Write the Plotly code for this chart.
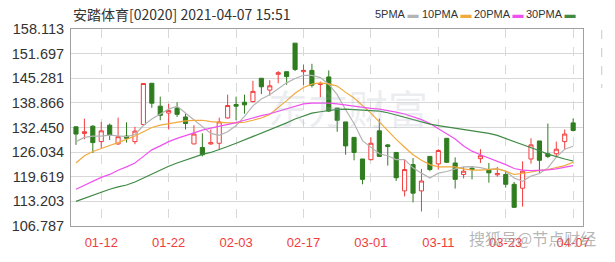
import plotly.graph_objects as go

dates = ["2021-01-07","2021-01-08","2021-01-11","2021-01-12","2021-01-13","2021-01-14","2021-01-15",
         "2021-01-18","2021-01-19","2021-01-20","2021-01-21","2021-01-22","2021-01-25","2021-01-26",
         "2021-01-27","2021-01-28","2021-01-29","2021-02-01","2021-02-02","2021-02-03","2021-02-04",
         "2021-02-05","2021-02-08","2021-02-09","2021-02-10","2021-02-11","2021-02-16","2021-02-17",
         "2021-02-18","2021-02-19","2021-02-22","2021-02-23","2021-02-24","2021-02-25","2021-02-26",
         "2021-03-01","2021-03-02","2021-03-03","2021-03-04","2021-03-05","2021-03-08","2021-03-09",
         "2021-03-10","2021-03-11","2021-03-12","2021-03-15","2021-03-16","2021-03-17","2021-03-18",
         "2021-03-19","2021-03-22","2021-03-23","2021-03-24","2021-03-25","2021-03-26","2021-03-29",
         "2021-03-30","2021-03-31","2021-04-01","2021-04-07"]

open_ = [132.62,130.91,132.79,128.77,133.05,128.17,130.23,128.77,133.22,143.98,
         138.01,136.21,137.50,135.19,128.17,127.23,128.17,128.34,134.93,138.44,
         139.04,139.21,145.28,142.20,146.31,146.99,154.43,146.99,147.33,143.66,
         145.62,137.50,133.90,129.88,124.24,124.07,131.58,127.92,125.95,115.94,
         122.78,115.94,124.92,122.96,129.63,123.21,120.22,121.84,124.32,121.50,
         120.13,120.22,117.65,116.63,124.24,128.94,125.61,125.61,128.77,133.65]
high = [132.79,134.76,133.05,133.90,133.48,135.02,133.82,132.62,143.91,143.98,
        140.49,138.61,139.04,136.04,133.05,130.91,131.94,135.02,141.00,140.49,
        141.00,144.60,145.28,144.77,147.16,146.99,154.43,148.87,149.04,144.42,
        147.33,137.50,133.90,129.88,124.24,129.88,134.76,128.17,125.95,124.07,
        124.50,121.67,124.92,126.80,129.63,124.67,122.19,122.36,126.80,123.21,
        122.19,121.07,118.25,123.64,129.63,128.94,133.48,128.77,131.94,134.85]
low = [127.92,129.37,125.78,127.06,129.20,127.92,128.51,128.09,133.05,137.58,
       134.33,131.94,135.19,131.94,128.09,124.92,127.92,126.80,134.76,134.33,
       136.04,138.95,141.17,140.75,143.98,143.57,147.16,143.48,142.89,140.32,
       136.47,131.34,125.35,123.90,117.65,123.90,124.75,122.53,118.51,114.49,
       112.95,110.55,121.07,121.50,123.21,116.54,119.19,118.94,123.21,118.08,
       119.62,116.80,111.49,111.83,123.04,120.64,124.50,124.75,126.63,131.43]
close = [130.74,131.34,128.51,131.58,130.48,130.05,129.63,131.51,143.91,138.78,
         135.61,136.90,135.87,133.48,130.74,125.35,128.51,133.90,138.18,138.01,
         138.35,141.86,143.06,143.31,146.73,145.71,147.59,147.33,143.48,143.91,
         136.73,134.33,127.66,125.95,118.94,128.34,124.92,127.49,119.36,121.50,
         115.34,118.51,121.50,126.46,123.38,118.94,121.07,121.50,125.09,120.64,
         120.47,117.65,111.66,121.07,127.92,123.90,124.92,126.80,130.74,131.68]

ma5 = [128.77,129.88,130.22,130.22,130.48,130.31,130.05,130.65,132.96,134.67,
       135.96,137.24,138.01,136.21,134.59,132.62,130.91,130.40,131.34,132.96,
       135.36,138.10,139.89,141.00,142.63,144.08,145.20,146.05,146.05,145.45,
       143.74,141.00,137.07,133.48,129.03,127.23,125.61,125.09,124.07,124.07,
       121.93,120.56,119.28,120.56,120.99,121.67,122.19,122.27,122.01,121.50,
       121.76,121.07,119.28,118.42,119.79,120.47,121.93,124.75,126.80,127.57]
ma10 = [123.21,125.09,126.20,127.06,127.75,128.52,129.37,130.22,131.34,132.45,
        133.05,133.48,133.90,134.16,134.33,134.33,133.99,133.73,133.65,133.65,
        133.82,134.33,134.93,135.87,137.58,139.46,141.35,142.89,143.74,144.08,
        143.83,143.23,141.60,140.15,138.18,136.21,133.90,131.58,129.37,127.32,
        125.35,123.90,122.78,122.19,122.19,122.19,121.67,121.33,121.33,121.50,
        121.67,121.07,120.22,120.47,120.90,121.24,121.50,121.93,122.53,123.38]
ma20 = [116.37,117.40,118.42,119.45,120.22,121.33,122.19,123.21,124.92,126.63,
        127.66,128.77,129.63,130.40,131.08,131.77,132.28,132.71,133.22,133.73,
        134.33,135.02,135.53,136.04,136.73,137.33,138.01,138.61,138.78,138.87,
        138.78,138.61,138.27,137.93,137.58,137.41,137.24,136.90,136.47,135.96,
        135.27,134.50,133.48,132.19,130.91,129.46,127.66,126.29,125.35,124.50,
        123.81,122.78,121.76,121.33,121.24,121.24,121.41,121.67,122.01,122.53]
ma30 = [113.20,113.97,114.83,115.68,116.37,116.97,117.48,118.25,119.28,120.39,
        121.41,122.36,123.21,123.98,124.75,125.44,125.95,126.63,127.49,128.34,
        129.20,130.05,130.91,131.77,132.62,133.65,134.67,135.53,136.21,136.55,
        136.90,137.15,137.24,137.15,137.07,136.90,136.73,136.30,135.70,135.02,
        134.33,133.73,133.31,132.96,132.62,132.36,132.11,131.77,131.34,130.91,
        130.40,129.63,128.69,128.00,127.23,126.38,125.52,124.84,124.24,123.72]

y_ticks = ["106.787","113.203","119.619","126.034","132.450","138.866","145.281","151.697","158.113"]
x_tick_dates = ["2021-01-12","2021-01-22","2021-02-03","2021-02-17","2021-03-01",
                "2021-03-11","2021-03-23","2021-04-07"]
x_tick_text = ["01-12","01-22","02-03","02-17","03-01","03-11","03-23","04-07"]

ma_names = ["5PMA", "10PMA", "20PMA", "30PMA"]
ma_colors = ["#b4b4b4", "#f2a93b", "#f050f0", "#3f8a45"]
title_text = "安踏体育[02020] 2021-04-07 15:51"

RED = "#f23c3c"
GREEN = "#2f7d1f"

fig = go.Figure()
fig.add_trace(go.Candlestick(
    x=dates, open=open_, high=high, low=low, close=close,
    increasing=dict(line=dict(color=RED, width=1), fillcolor="white"),
    decreasing=dict(line=dict(color=GREEN, width=1), fillcolor=GREEN),
    whiskerwidth=0, showlegend=False, hoverinfo="skip",
))
for name, vals, col in zip(ma_names, [ma5, ma10, ma20, ma30], ma_colors):
    fig.add_trace(go.Scatter(x=dates, y=vals, mode="lines", name=name,
                             line=dict(color=col, width=1.2), showlegend=False,
                             hoverinfo="skip"))

L, R, T, B = 64, 32, 29, 33
W, H = 615, 262
pw = W - L - R
ph = H - T - B

def px_x(x):
    return (x - L) / pw

def px_y(y):
    return (H - B - y) / ph

fig.update_layout(
    width=W, height=H,
    margin=dict(l=L, r=R, t=T, b=B, pad=0),
    paper_bgcolor="white", plot_bgcolor="white",
    showlegend=False,
    font=dict(family="Liberation Sans, Arial, sans-serif", color="#333"),
    xaxis=dict(
        type="category", range=[-0.59, 60.17],
        rangeslider=dict(visible=False),
        tickmode="array", tickvals=x_tick_dates, ticktext=x_tick_text,
        tickfont=dict(size=13, color=RED, family="Liberation Sans, Arial, sans-serif"),
        showgrid=True, gridcolor="#d8d8d8", griddash="dash", gridwidth=1,
        showline=True, linecolor="#a0a0a0", linewidth=1, mirror=True,
        ticks="", ticklabelstandoff=4, fixedrange=True,
    ),
    yaxis=dict(
        range=[106.787, 158.113],
        tickmode="array", tickvals=[float(v) for v in y_ticks], ticktext=y_ticks,
        tickfont=dict(size=14.5, color="#333", family="Liberation Sans, Arial, sans-serif"),
        showgrid=True, gridcolor="#d8d8d8", gridwidth=1,
        showline=True, linecolor="#a0a0a0", linewidth=1, mirror=True,
        ticks="", ticklabelstandoff=3, zeroline=False, fixedrange=True,
    ),
)

annotations = [
    dict(text=title_text, xref="paper", yref="paper", x=0, y=px_y(14),
         xanchor="left", yanchor="middle", showarrow=False,
         font=dict(size=14, color="#333", family="Noto Sans CJK SC, sans-serif")),
    dict(text="东方财富", xref="paper", yref="paper", x=px_x(345), y=px_y(108),
         xanchor="center", yanchor="middle", showarrow=False,
         font=dict(size=40, color="rgba(170,175,195,0.22)", family="Noto Sans CJK SC, sans-serif")),
    dict(text="搜狐号@节点财经", xref="paper", yref="paper", x=px_x(532), y=px_y(241),
         xanchor="center", yanchor="middle", showarrow=False,
         font=dict(size=16, color="rgba(150,150,150,0.7)", family="Noto Sans CJK SC, sans-serif")),
]
leg_x = [370, 418, 470, 523]
for name, col, lx in zip(ma_names, ma_colors, leg_x):
    annotations.append(dict(
        text=f"{name}<span style='color:{col}'> ▬</span>", xref="paper", yref="paper",
        x=px_x(lx), y=px_y(14), xanchor="left", yanchor="middle", showarrow=False,
        font=dict(size=11, color="#333", family="Liberation Sans, Arial, sans-serif")))
fig.update_layout(annotations=annotations)

# faint scrollbar remnant at the right edge of the widget
fig.add_shape(type="line", xref="paper", yref="paper",
              x0=px_x(602), x1=px_x(602), y0=px_y(30), y1=px_y(89),
              line=dict(color="#c8c8c8", width=1, dash="dash"))

fig.write_html("out.html", config={"displayModeBar": False, "staticPlot": True})
